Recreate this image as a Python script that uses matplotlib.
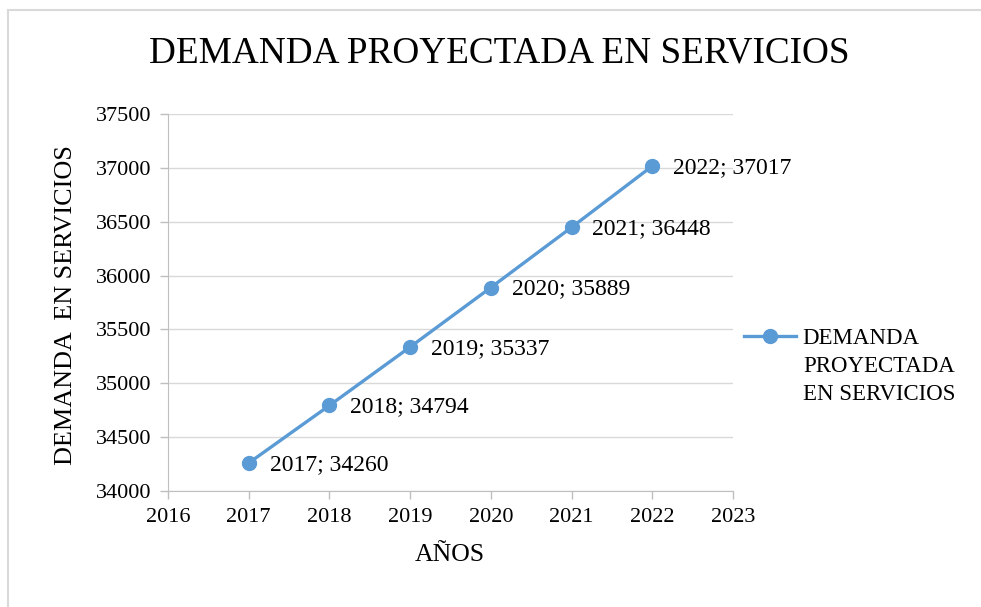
import matplotlib
matplotlib.use("Agg")
import matplotlib.pyplot as plt
from matplotlib.lines import Line2D
from matplotlib.patches import Rectangle

years = [2017, 2018, 2019, 2020, 2021, 2022]
demand = [34260, 34794, 35337, 35889, 36448, 37017]
x_ticks = [2016, 2017, 2018, 2019, 2020, 2021, 2022, 2023]
y_ticks = [34000, 34500, 35000, 35500, 36000, 36500, 37000, 37500]
title = "DEMANDA PROYECTADA EN SERVICIOS"
series_name = ["DEMANDA", "PROYECTADA", "EN SERVICIOS"]
xlabel = "AÑOS"
ylabel = "DEMANDA  EN SERVICIOS"

plt.rcParams['font.family'] = ['Liberation Serif', 'DejaVu Serif']
color = "#5B9BD5"
grid_c = "#D9D9D9"
axis_c = "#BFBFBF"

fig = plt.figure(figsize=(9.81, 6.07), dpi=100)
fig.patches.append(Rectangle((8/981, -0.1), 1.2, 1 - 10/607 + 0.1, transform=fig.transFigure,
                             fill=False, edgecolor=grid_c, linewidth=1.5))

ax = fig.add_axes([168/981, 1 - 491/607, (733-168)/981, (491-114)/607])
ax.plot(years, demand, color=color, linewidth=2.4, marker='o', markersize=10, zorder=3)
for x, y in zip(years, demand):
    ax.annotate(f"{x}; {y}", (x, y), xytext=(15, -1), textcoords='offset points',
                ha='left', va='center', fontsize=17, color='black')

ax.set_xlim(2016, 2023)
ax.set_ylim(34000, 37500)
ax.set_xticks(x_ticks)
ax.set_yticks(y_ticks)
ax.set_xticklabels([str(t) for t in x_ticks], fontsize=16)
ax.set_yticklabels([str(t) for t in y_ticks], fontsize=16)
ax.grid(axis='y', color=grid_c, linewidth=1)
ax.set_axisbelow(True)
for s in ['top', 'right']:
    ax.spines[s].set_visible(False)
ax.spines['left'].set_color(axis_c)
ax.spines['bottom'].set_color(axis_c)
ax.tick_params(axis='both', color=axis_c, length=6, width=1, direction='out')
ax.tick_params(axis='x', pad=6)
ax.tick_params(axis='y', pad=6)

fig.text(499/981, 1 - 53/607, title, ha='center', va='center', fontsize=26.8)
fig.text(450/981, 1 - 555/607, xlabel, ha='center', va='center', fontsize=18.5)
fig.text(66/981, 1 - 305/607, ylabel, ha='center', va='center', rotation=90, fontsize=18.8)

leg = ax.legend([Line2D([0], [0], color=color, linewidth=2.4, marker='o', markersize=10)],
                [series_name[0]], loc='center left', bbox_to_anchor=(744/981, 1 - 338/607),
                bbox_transform=fig.transFigure, frameon=False, fontsize=16.5,
                handlelength=2.25, handletextpad=0.3, borderaxespad=0, borderpad=0)
for i, line in enumerate(series_name[1:], start=1):
    fig.text(803/981, 1 - (338 + 28.5 * i)/607, line, ha='left', va='center', fontsize=16.5)

fig.savefig("out.png", dpi=100, facecolor='white')
